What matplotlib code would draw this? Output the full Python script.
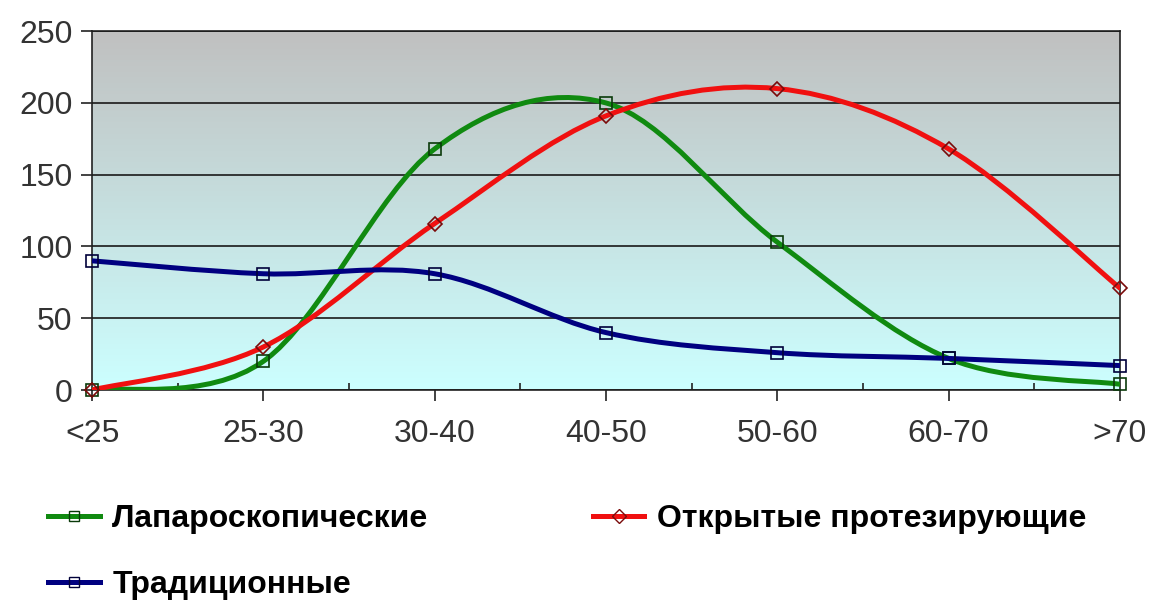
import numpy as np
import matplotlib
matplotlib.use("Agg")
from matplotlib import pyplot as plt
from matplotlib.path import Path
from matplotlib.patches import PathPatch
from matplotlib.lines import Line2D

plt.rcParams['font.family'] = ['Liberation Sans', 'DejaVu Sans']

# данные
categories = ["<25", "25-30", "30-40", "40-50", "50-60", "60-70", ">70"]
laparo = [0, 20, 168, 200, 103, 22, 4]
open_prot = [0, 30, 116, 191, 210, 168, 71]
tradic = [90, 81, 81, 40, 26, 22, 17]
labels = ["Лапароскопические", "Открытые протезирующие", "Традиционные"]


def smooth_path(xs, ys):
    # сглаженная линия как в Excel (кривые Безье)
    pts = np.column_stack([xs, ys]).astype(float)
    n = len(pts)
    verts = [pts[0]]
    codes = [Path.MOVETO]
    for i in range(n - 1):
        p0 = pts[i - 1] if i > 0 else pts[i]
        p1 = pts[i]
        p2 = pts[i + 1]
        p3 = pts[i + 2] if i + 2 < n else pts[i + 1]
        c1 = p1 + (p2 - p0) / 6.0
        c2 = p2 - (p3 - p1) / 6.0
        verts += [c1, c2, p2]
        codes += [Path.CURVE4] * 3
    return Path(verts, codes)


fig = plt.figure(figsize=(11.51, 6.0), dpi=100)
ax = fig.add_axes([0.080, 0.350, 0.893, 0.598])

x = np.arange(len(categories))

# градиентный фон
grad = np.linspace(0, 1, 256).reshape(-1, 1)
top = np.array([192, 192, 192]) / 255.0
bot = np.array([204, 255, 255]) / 255.0
img = top[None, None, :] * (1 - grad[:, :, None]) + bot[None, None, :] * grad[:, :, None]
ax.imshow(img, extent=[0, 1, 0, 1], transform=ax.transAxes, aspect='auto', zorder=0)

series = [
    (laparo, '#108a10', 's', '#0a3a0a'),
    (open_prot, '#f01010', 'D', '#7a0a0a'),
    (tradic, '#000080', 's', '#00003a'),
]
for vals, col, mk, mec in series:
    ax.add_patch(PathPatch(smooth_path(x, vals), facecolor='none', edgecolor=col,
                           lw=3.6, zorder=3, capstyle='round', joinstyle='round'))
    ax.plot(x, vals, linestyle='none', marker=mk, markersize=8 if mk == 's' else 7,
            mfc='none', mec=mec, mew=1.2, zorder=4, clip_on=False)

ax.set_xlim(0, len(categories) - 1)
ax.set_ylim(0, 250)
ax.set_yticks(range(0, 251, 50))
ax.set_xticks(x)
ax.set_xticklabels(categories)
ax.set_xticks(x[:-1] + 0.5, minor=True)
ax.grid(axis='y', color='#1a1a1a', lw=1.2, zorder=1)
ax.set_axisbelow(False)
for s in ax.spines.values():
    s.set_color('#222222')
    s.set_linewidth(1.2)
ax.tick_params(axis='both', which='major', labelsize=23, colors='#222222',
               labelcolor='#333333', length=8, width=1.2, direction='out')
ax.tick_params(axis='x', which='minor', length=5, width=1.2, direction='in', colors='#222222')
ax.tick_params(axis='x', pad=13)
ax.tick_params(axis='y', pad=6)

# легенда
handles = []
for vals, col, mk, mec in series:
    handles.append(Line2D([], [], color=col, lw=3.6, marker=mk,
                          markersize=7, mfc='none', mec=mec, mew=1.0))
order = [0, 2, 1]
fig.legend([handles[i] for i in order], [labels[i] for i in order],
           loc='upper left', bbox_to_anchor=(0.031, 0.181), ncol=2, frameon=False,
           prop={'weight': 'bold', 'size': 23}, handlelength=1.6, handletextpad=0.4,
           columnspacing=5.15, labelspacing=1.12, borderaxespad=0)

fig.savefig("out.png", dpi=100)
